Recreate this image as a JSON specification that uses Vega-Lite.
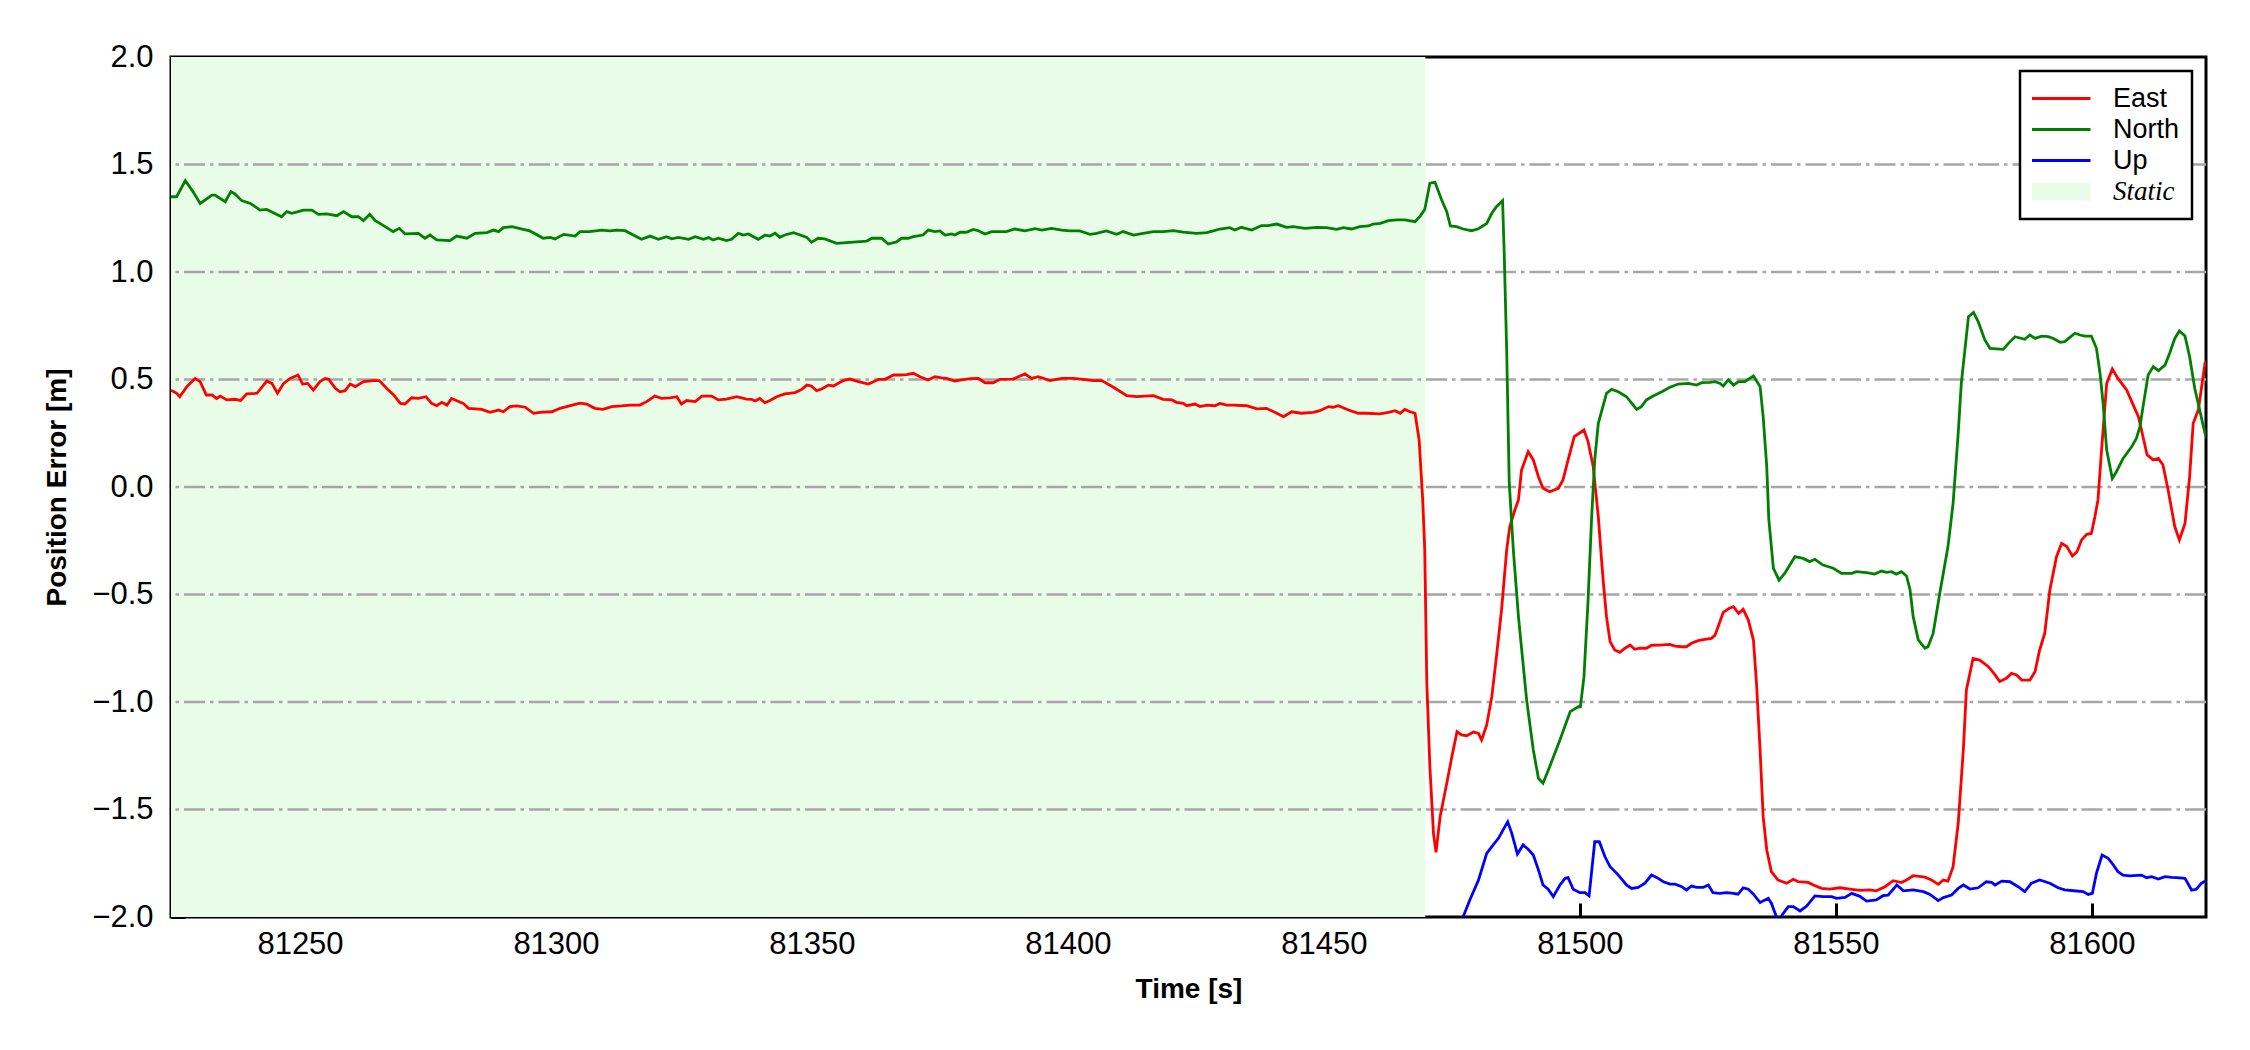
{
  "$schema": "https://vega.github.io/schema/vega-lite/v6.json",
  "width": 2035,
  "height": 860,
  "autosize": {"type": "none"},
  "padding": {"left": 171, "top": 57, "right": 44, "bottom": 133},
  "background": "white",
  "config": {
    "view": {"stroke": "black", "strokeWidth": 3},
    "axis": {
      "domain": false,
      "grid": false,
      "ticks": true,
      "tickSize": 14,
      "tickWidth": 3,
      "tickColor": "black",
      "offset": -14,
      "zindex": 1,
      "labelFont": "Liberation Sans",
      "labelFontSize": 31,
      "labelColor": "black",
      "titleFont": "Liberation Sans",
      "titleFontSize": 28,
      "titleFontWeight": "bold",
      "titleColor": "black"
    },
    "axisX": {"labelPadding": 12, "titlePadding": 16, "labelFlush": false},
    "axisY": {"labelPadding": 18, "titlePadding": 20, "labelFlush": false},
    "legend": {
      "strokeColor": "black",
      "fillColor": "white",
      "padding": 12,
      "cornerRadius": 0
    }
  },
  "layer": [
    {
      "data": {"values": [{"phase": "Static", "t0": 81200, "t1": 81469.8}]},
      "mark": {"type": "rect", "color": "#e8fce8", "clip": true},
      "encoding": {
        "x": {"field": "t0", "type": "quantitative", "title": "Time [s]"},
        "x2": {"field": "t1"}
      }
    },
    {
      "data": {"values": [{"g": -1.5}, {"g": -1.0}, {"g": -0.5}, {"g": 0.0}, {"g": 0.5}, {"g": 1.0}, {"g": 1.5}]},
      "mark": {"type": "rule", "color": "#a6a6a6", "strokeWidth": 2.6, "strokeDash": [21, 5, 3.5, 5]},
      "encoding": {
        "y": {"field": "g", "type": "quantitative", "title": "Position Error [m]"}
      }
    },
    {
      "data": {"values": [
        {"s":"East","t":81224.8,"v":0.45},{"s":"East","t":81225.9,"v":0.436},{"s":"East","t":81226.5,"v":0.42},{"s":"East","t":81227.9,"v":0.467},{"s":"East","t":81229.5,"v":0.505},{"s":"East","t":81230.5,"v":0.49},{"s":"East","t":81231.7,"v":0.428},{"s":"East","t":81232.8,"v":0.428},{"s":"East","t":81233.7,"v":0.412},{"s":"East","t":81234.4,"v":0.423},{"s":"East","t":81235.7,"v":0.405},{"s":"East","t":81237.3,"v":0.408},{"s":"East","t":81238.4,"v":0.402},{"s":"East","t":81239.6,"v":0.433},{"s":"East","t":81241.6,"v":0.436},{"s":"East","t":81243.5,"v":0.493},{"s":"East","t":81244.5,"v":0.482},{"s":"East","t":81245.6,"v":0.436},{"s":"East","t":81246.8,"v":0.482},{"s":"East","t":81248.1,"v":0.505},{"s":"East","t":81249.6,"v":0.521},{"s":"East","t":81250.5,"v":0.479},{"s":"East","t":81251.5,"v":0.482},{"s":"East","t":81252.6,"v":0.451},{"s":"East","t":81253.9,"v":0.49},{"s":"East","t":81254.9,"v":0.505},{"s":"East","t":81255.6,"v":0.501},{"s":"East","t":81256.9,"v":0.459},{"s":"East","t":81257.8,"v":0.443},{"s":"East","t":81258.8,"v":0.448},{"s":"East","t":81259.8,"v":0.479},{"s":"East","t":81260.8,"v":0.467},{"s":"East","t":81262.4,"v":0.49},{"s":"East","t":81264.3,"v":0.495},{"s":"East","t":81265.5,"v":0.495},{"s":"East","t":81266.9,"v":0.459},{"s":"East","t":81268.3,"v":0.428},{"s":"East","t":81269.6,"v":0.389},{"s":"East","t":81270.5,"v":0.386},{"s":"East","t":81271.8,"v":0.415},{"s":"East","t":81273.1,"v":0.412},{"s":"East","t":81274.6,"v":0.42},{"s":"East","t":81275.7,"v":0.389},{"s":"East","t":81276.7,"v":0.378},{"s":"East","t":81277.7,"v":0.394},{"s":"East","t":81278.7,"v":0.381},{"s":"East","t":81279.6,"v":0.412},{"s":"East","t":81281.3,"v":0.394},{"s":"East","t":81281.9,"v":0.389},{"s":"East","t":81282.9,"v":0.366},{"s":"East","t":81285.5,"v":0.361},{"s":"East","t":81287.1,"v":0.347},{"s":"East","t":81288.8,"v":0.358},{"s":"East","t":81289.7,"v":0.35},{"s":"East","t":81291.0,"v":0.374},{"s":"East","t":81292.3,"v":0.377},{"s":"East","t":81294.0,"v":0.371},{"s":"East","t":81295.6,"v":0.343},{"s":"East","t":81296.9,"v":0.347},{"s":"East","t":81299.2,"v":0.35},{"s":"East","t":81300.8,"v":0.366},{"s":"East","t":81302.8,"v":0.378},{"s":"East","t":81304.7,"v":0.39},{"s":"East","t":81306.0,"v":0.386},{"s":"East","t":81307.6,"v":0.366},{"s":"East","t":81309.2,"v":0.361},{"s":"East","t":81310.9,"v":0.374},{"s":"East","t":81312.8,"v":0.377},{"s":"East","t":81314.5,"v":0.381},{"s":"East","t":81316.4,"v":0.381},{"s":"East","t":81317.7,"v":0.397},{"s":"East","t":81319.3,"v":0.423},{"s":"East","t":81320.6,"v":0.412},{"s":"East","t":81322.3,"v":0.415},{"s":"East","t":81323.6,"v":0.42},{"s":"East","t":81324.5,"v":0.386},{"s":"East","t":81325.5,"v":0.402},{"s":"East","t":81327.2,"v":0.397},{"s":"East","t":81328.5,"v":0.423},{"s":"East","t":81330.4,"v":0.423},{"s":"East","t":81331.7,"v":0.405},{"s":"East","t":81333.3,"v":0.409},{"s":"East","t":81335.3,"v":0.42},{"s":"East","t":81337.2,"v":0.409},{"s":"East","t":81338.2,"v":0.408},{"s":"East","t":81338.9,"v":0.4},{"s":"East","t":81339.8,"v":0.412},{"s":"East","t":81340.8,"v":0.392},{"s":"East","t":81341.8,"v":0.402},{"s":"East","t":81343.1,"v":0.42},{"s":"East","t":81344.7,"v":0.433},{"s":"East","t":81346.7,"v":0.439},{"s":"East","t":81348.0,"v":0.454},{"s":"East","t":81349.0,"v":0.474},{"s":"East","t":81349.9,"v":0.47},{"s":"East","t":81350.9,"v":0.448},{"s":"East","t":81351.9,"v":0.456},{"s":"East","t":81353.2,"v":0.474},{"s":"East","t":81354.2,"v":0.47},{"s":"East","t":81356.1,"v":0.495},{"s":"East","t":81357.4,"v":0.502},{"s":"East","t":81359.1,"v":0.49},{"s":"East","t":81361.0,"v":0.479},{"s":"East","t":81362.0,"v":0.49},{"s":"East","t":81363.0,"v":0.501},{"s":"East","t":81364.3,"v":0.501},{"s":"East","t":81365.9,"v":0.521},{"s":"East","t":81367.2,"v":0.521},{"s":"East","t":81368.5,"v":0.523},{"s":"East","t":81369.8,"v":0.529},{"s":"East","t":81371.1,"v":0.513},{"s":"East","t":81372.7,"v":0.498},{"s":"East","t":81374.0,"v":0.513},{"s":"East","t":81375.3,"v":0.508},{"s":"East","t":81376.3,"v":0.505},{"s":"East","t":81377.9,"v":0.493},{"s":"East","t":81379.2,"v":0.498},{"s":"East","t":81380.9,"v":0.504},{"s":"East","t":81382.5,"v":0.505},{"s":"East","t":81383.8,"v":0.485},{"s":"East","t":81385.4,"v":0.485},{"s":"East","t":81386.7,"v":0.501},{"s":"East","t":81389.3,"v":0.502},{"s":"East","t":81391.6,"v":0.526},{"s":"East","t":81392.9,"v":0.505},{"s":"East","t":81394.2,"v":0.513},{"s":"East","t":81396.5,"v":0.495},{"s":"East","t":81398.8,"v":0.505},{"s":"East","t":81401.0,"v":0.505},{"s":"East","t":81403.0,"v":0.501},{"s":"East","t":81404.9,"v":0.495},{"s":"East","t":81406.6,"v":0.495},{"s":"East","t":81408.9,"v":0.464},{"s":"East","t":81411.5,"v":0.425},{"s":"East","t":81413.4,"v":0.42},{"s":"East","t":81416.7,"v":0.425},{"s":"East","t":81418.6,"v":0.408},{"s":"East","t":81420.3,"v":0.405},{"s":"East","t":81421.2,"v":0.394},{"s":"East","t":81422.5,"v":0.389},{"s":"East","t":81423.2,"v":0.378},{"s":"East","t":81424.8,"v":0.386},{"s":"East","t":81425.8,"v":0.374},{"s":"East","t":81427.1,"v":0.381},{"s":"East","t":81428.7,"v":0.378},{"s":"East","t":81429.7,"v":0.389},{"s":"East","t":81431.0,"v":0.381},{"s":"East","t":81432.3,"v":0.381},{"s":"East","t":81434.9,"v":0.378},{"s":"East","t":81436.9,"v":0.363},{"s":"East","t":81438.8,"v":0.366},{"s":"East","t":81440.8,"v":0.343},{"s":"East","t":81442.1,"v":0.327},{"s":"East","t":81443.7,"v":0.35},{"s":"East","t":81445.6,"v":0.343},{"s":"East","t":81447.9,"v":0.347},{"s":"East","t":81449.2,"v":0.355},{"s":"East","t":81450.9,"v":0.374},{"s":"East","t":81451.8,"v":0.371},{"s":"East","t":81452.8,"v":0.378},{"s":"East","t":81454.8,"v":0.358},{"s":"East","t":81456.7,"v":0.343},{"s":"East","t":81458.3,"v":0.343},{"s":"East","t":81460.9,"v":0.34},{"s":"East","t":81462.6,"v":0.347},{"s":"East","t":81463.9,"v":0.355},{"s":"East","t":81464.9,"v":0.343},{"s":"East","t":81465.8,"v":0.361},{"s":"East","t":81466.8,"v":0.35},{"s":"East","t":81467.8,"v":0.343},{"s":"East","t":81468.6,"v":0.219},{"s":"East","t":81469.3,"v":-0.06},{"s":"East","t":81469.7,"v":-0.293},{"s":"East","t":81470.1,"v":-0.913},{"s":"East","t":81470.7,"v":-1.301},{"s":"East","t":81471.4,"v":-1.611},{"s":"East","t":81471.9,"v":-1.699},{"s":"East","t":81472.7,"v":-1.533},{"s":"East","t":81474.0,"v":-1.378},{"s":"East","t":81475.0,"v":-1.254},{"s":"East","t":81476.0,"v":-1.138},{"s":"East","t":81476.9,"v":-1.153},{"s":"East","t":81477.9,"v":-1.157},{"s":"East","t":81479.2,"v":-1.14},{"s":"East","t":81480.2,"v":-1.146},{"s":"East","t":81480.8,"v":-1.177},{"s":"East","t":81481.8,"v":-1.107},{"s":"East","t":81482.8,"v":-0.975},{"s":"East","t":81483.7,"v":-0.789},{"s":"East","t":81484.7,"v":-0.572},{"s":"East","t":81485.7,"v":-0.293},{"s":"East","t":81486.3,"v":-0.185},{"s":"East","t":81487.3,"v":-0.107},{"s":"East","t":81488.0,"v":-0.06},{"s":"East","t":81488.6,"v":0.079},{"s":"East","t":81489.9,"v":0.164},{"s":"East","t":81490.9,"v":0.126},{"s":"East","t":81491.9,"v":0.048},{"s":"East","t":81492.8,"v":-0.006},{"s":"East","t":81494.1,"v":-0.022},{"s":"East","t":81495.8,"v":-0.006},{"s":"East","t":81496.7,"v":0.033},{"s":"East","t":81497.7,"v":0.126},{"s":"East","t":81498.9,"v":0.234},{"s":"East","t":81500.8,"v":0.265},{"s":"East","t":81501.6,"v":0.211},{"s":"East","t":81502.6,"v":0.095},{"s":"East","t":81503.6,"v":-0.138},{"s":"East","t":81504.2,"v":-0.33},{"s":"East","t":81504.6,"v":-0.448},{"s":"East","t":81505.2,"v":-0.603},{"s":"East","t":81505.9,"v":-0.719},{"s":"East","t":81506.8,"v":-0.758},{"s":"East","t":81507.8,"v":-0.769},{"s":"East","t":81508.8,"v":-0.75},{"s":"East","t":81509.8,"v":-0.735},{"s":"East","t":81510.7,"v":-0.755},{"s":"East","t":81511.7,"v":-0.75},{"s":"East","t":81513.0,"v":-0.75},{"s":"East","t":81514.0,"v":-0.736},{"s":"East","t":81515.6,"v":-0.735},{"s":"East","t":81517.6,"v":-0.732},{"s":"East","t":81518.6,"v":-0.74},{"s":"East","t":81519.9,"v":-0.743},{"s":"East","t":81520.8,"v":-0.743},{"s":"East","t":81521.8,"v":-0.727},{"s":"East","t":81523.1,"v":-0.715},{"s":"East","t":81524.4,"v":-0.709},{"s":"East","t":81525.7,"v":-0.704},{"s":"East","t":81526.4,"v":-0.689},{"s":"East","t":81527.0,"v":-0.65},{"s":"East","t":81528.0,"v":-0.583},{"s":"East","t":81529.2,"v":-0.564},{"s":"East","t":81530.0,"v":-0.557},{"s":"East","t":81531.0,"v":-0.588},{"s":"East","t":81531.9,"v":-0.569},{"s":"East","t":81532.9,"v":-0.619},{"s":"East","t":81533.9,"v":-0.712},{"s":"East","t":81534.5,"v":-0.913},{"s":"East","t":81535.2,"v":-1.223},{"s":"East","t":81535.8,"v":-1.533},{"s":"East","t":81536.5,"v":-1.688},{"s":"East","t":81537.4,"v":-1.789},{"s":"East","t":81538.7,"v":-1.828},{"s":"East","t":81540.4,"v":-1.843},{"s":"East","t":81541.7,"v":-1.825},{"s":"East","t":81542.6,"v":-1.836},{"s":"East","t":81544.6,"v":-1.839},{"s":"East","t":81545.6,"v":-1.851},{"s":"East","t":81547.2,"v":-1.867},{"s":"East","t":81548.8,"v":-1.87},{"s":"East","t":81550.8,"v":-1.864},{"s":"East","t":81552.7,"v":-1.87},{"s":"East","t":81554.7,"v":-1.876},{"s":"East","t":81556.6,"v":-1.874},{"s":"East","t":81557.9,"v":-1.878},{"s":"East","t":81559.6,"v":-1.859},{"s":"East","t":81561.2,"v":-1.831},{"s":"East","t":81562.8,"v":-1.84},{"s":"East","t":81563.8,"v":-1.828},{"s":"East","t":81565.1,"v":-1.808},{"s":"East","t":81567.4,"v":-1.815},{"s":"East","t":81568.7,"v":-1.828},{"s":"East","t":81570.0,"v":-1.848},{"s":"East","t":81571.0,"v":-1.828},{"s":"East","t":81571.9,"v":-1.833},{"s":"East","t":81572.9,"v":-1.766},{"s":"East","t":81573.9,"v":-1.564},{"s":"East","t":81574.9,"v":-1.223},{"s":"East","t":81575.5,"v":-0.944},{"s":"East","t":81576.8,"v":-0.797},{"s":"East","t":81578.1,"v":-0.805},{"s":"East","t":81579.8,"v":-0.836},{"s":"East","t":81581.1,"v":-0.874},{"s":"East","t":81582.0,"v":-0.905},{"s":"East","t":81583.3,"v":-0.89},{"s":"East","t":81584.3,"v":-0.867},{"s":"East","t":81585.3,"v":-0.874},{"s":"East","t":81586.3,"v":-0.898},{"s":"East","t":81587.9,"v":-0.898},{"s":"East","t":81588.9,"v":-0.859},{"s":"East","t":81589.8,"v":-0.758},{"s":"East","t":81590.8,"v":-0.681},{"s":"East","t":81591.8,"v":-0.479},{"s":"East","t":81593.1,"v":-0.324},{"s":"East","t":81594.1,"v":-0.262},{"s":"East","t":81595.1,"v":-0.277},{"s":"East","t":81596.2,"v":-0.321},{"s":"East","t":81597.1,"v":-0.301},{"s":"East","t":81598.0,"v":-0.246},{"s":"East","t":81599.0,"v":-0.22},{"s":"East","t":81599.9,"v":-0.216},{"s":"East","t":81600.6,"v":-0.138},{"s":"East","t":81601.2,"v":-0.06},{"s":"East","t":81601.9,"v":0.172},{"s":"East","t":81602.9,"v":0.482},{"s":"East","t":81604.0,"v":0.549},{"s":"East","t":81605.1,"v":0.505},{"s":"East","t":81606.8,"v":0.451},{"s":"East","t":81608.1,"v":0.381},{"s":"East","t":81609.1,"v":0.327},{"s":"East","t":81609.7,"v":0.265},{"s":"East","t":81610.8,"v":0.149},{"s":"East","t":81612.0,"v":0.126},{"s":"East","t":81613.0,"v":0.133},{"s":"East","t":81613.9,"v":0.102},{"s":"East","t":81614.9,"v":-0.014},{"s":"East","t":81616.2,"v":-0.184},{"s":"East","t":81617.1,"v":-0.246},{"s":"East","t":81618.2,"v":-0.169},{"s":"East","t":81619.1,"v":0.048},{"s":"East","t":81619.8,"v":0.296},{"s":"East","t":81620.8,"v":0.358},{"s":"East","t":81622.1,"v":0.575},{"s":"East","t":81623.0,"v":0.6},
        {"s":"North","t":81224.8,"v":1.35},{"s":"North","t":81225.9,"v":1.35},{"s":"North","t":81227.6,"v":1.425},{"s":"North","t":81228.9,"v":1.381},{"s":"North","t":81230.5,"v":1.319},{"s":"North","t":81232.8,"v":1.358},{"s":"North","t":81233.4,"v":1.358},{"s":"North","t":81235.4,"v":1.327},{"s":"North","t":81236.5,"v":1.374},{"s":"North","t":81237.3,"v":1.363},{"s":"North","t":81238.6,"v":1.332},{"s":"North","t":81240.3,"v":1.319},{"s":"North","t":81242.2,"v":1.288},{"s":"North","t":81243.5,"v":1.291},{"s":"North","t":81244.8,"v":1.276},{"s":"North","t":81246.4,"v":1.257},{"s":"North","t":81247.4,"v":1.281},{"s":"North","t":81248.4,"v":1.273},{"s":"North","t":81250.7,"v":1.288},{"s":"North","t":81252.3,"v":1.288},{"s":"North","t":81253.6,"v":1.268},{"s":"North","t":81255.2,"v":1.27},{"s":"North","t":81257.2,"v":1.262},{"s":"North","t":81258.5,"v":1.281},{"s":"North","t":81260.1,"v":1.257},{"s":"North","t":81261.4,"v":1.257},{"s":"North","t":81262.4,"v":1.239},{"s":"North","t":81263.6,"v":1.268},{"s":"North","t":81264.7,"v":1.239},{"s":"North","t":81265.6,"v":1.226},{"s":"North","t":81268.2,"v":1.188},{"s":"North","t":81269.4,"v":1.203},{"s":"North","t":81270.5,"v":1.177},{"s":"North","t":81273.1,"v":1.18},{"s":"North","t":81274.4,"v":1.157},{"s":"North","t":81275.4,"v":1.172},{"s":"North","t":81276.7,"v":1.149},{"s":"North","t":81279.3,"v":1.146},{"s":"North","t":81280.6,"v":1.167},{"s":"North","t":81282.6,"v":1.157},{"s":"North","t":81284.2,"v":1.18},{"s":"North","t":81286.5,"v":1.183},{"s":"North","t":81287.8,"v":1.195},{"s":"North","t":81288.8,"v":1.188},{"s":"North","t":81289.7,"v":1.206},{"s":"North","t":81291.4,"v":1.211},{"s":"North","t":81293.6,"v":1.198},{"s":"North","t":81294.9,"v":1.191},{"s":"North","t":81297.5,"v":1.157},{"s":"North","t":81298.9,"v":1.161},{"s":"North","t":81299.8,"v":1.154},{"s":"North","t":81301.5,"v":1.175},{"s":"North","t":81303.7,"v":1.167},{"s":"North","t":81304.7,"v":1.188},{"s":"North","t":81306.6,"v":1.188},{"s":"North","t":81308.9,"v":1.195},{"s":"North","t":81310.5,"v":1.191},{"s":"North","t":81311.9,"v":1.195},{"s":"North","t":81313.5,"v":1.192},{"s":"North","t":81315.1,"v":1.172},{"s":"North","t":81316.7,"v":1.152},{"s":"North","t":81318.4,"v":1.167},{"s":"North","t":81320.0,"v":1.152},{"s":"North","t":81321.6,"v":1.164},{"s":"North","t":81322.6,"v":1.154},{"s":"North","t":81323.9,"v":1.161},{"s":"North","t":81325.9,"v":1.152},{"s":"North","t":81327.2,"v":1.164},{"s":"North","t":81328.8,"v":1.152},{"s":"North","t":81329.8,"v":1.16},{"s":"North","t":81330.7,"v":1.149},{"s":"North","t":81331.7,"v":1.157},{"s":"North","t":81333.3,"v":1.146},{"s":"North","t":81334.3,"v":1.152},{"s":"North","t":81335.6,"v":1.18},{"s":"North","t":81336.6,"v":1.172},{"s":"North","t":81337.6,"v":1.177},{"s":"North","t":81339.5,"v":1.152},{"s":"North","t":81340.8,"v":1.171},{"s":"North","t":81341.8,"v":1.167},{"s":"North","t":81342.8,"v":1.18},{"s":"North","t":81343.7,"v":1.161},{"s":"North","t":81344.7,"v":1.172},{"s":"North","t":81346.4,"v":1.183},{"s":"North","t":81347.7,"v":1.172},{"s":"North","t":81349.0,"v":1.161},{"s":"North","t":81349.9,"v":1.138},{"s":"North","t":81351.2,"v":1.157},{"s":"North","t":81352.5,"v":1.154},{"s":"North","t":81354.8,"v":1.133},{"s":"North","t":81357.4,"v":1.138},{"s":"North","t":81360.7,"v":1.144},{"s":"North","t":81361.7,"v":1.157},{"s":"North","t":81363.6,"v":1.157},{"s":"North","t":81364.9,"v":1.13},{"s":"North","t":81366.5,"v":1.14},{"s":"North","t":81367.5,"v":1.157},{"s":"North","t":81368.8,"v":1.157},{"s":"North","t":81369.8,"v":1.164},{"s":"North","t":81371.7,"v":1.172},{"s":"North","t":81372.7,"v":1.195},{"s":"North","t":81374.0,"v":1.188},{"s":"North","t":81375.0,"v":1.191},{"s":"North","t":81376.0,"v":1.172},{"s":"North","t":81377.3,"v":1.177},{"s":"North","t":81377.9,"v":1.172},{"s":"North","t":81378.9,"v":1.185},{"s":"North","t":81380.2,"v":1.185},{"s":"North","t":81381.5,"v":1.198},{"s":"North","t":81382.5,"v":1.192},{"s":"North","t":81383.8,"v":1.177},{"s":"North","t":81385.1,"v":1.188},{"s":"North","t":81386.7,"v":1.188},{"s":"North","t":81388.0,"v":1.188},{"s":"North","t":81389.6,"v":1.2},{"s":"North","t":81391.6,"v":1.191},{"s":"North","t":81393.6,"v":1.202},{"s":"North","t":81394.9,"v":1.195},{"s":"North","t":81396.8,"v":1.203},{"s":"North","t":81398.8,"v":1.195},{"s":"North","t":81400.4,"v":1.191},{"s":"North","t":81402.3,"v":1.191},{"s":"North","t":81404.3,"v":1.175},{"s":"North","t":81405.6,"v":1.18},{"s":"North","t":81407.5,"v":1.191},{"s":"North","t":81409.5,"v":1.175},{"s":"North","t":81410.8,"v":1.188},{"s":"North","t":81412.8,"v":1.172},{"s":"North","t":81414.7,"v":1.18},{"s":"North","t":81416.7,"v":1.188},{"s":"North","t":81418.6,"v":1.188},{"s":"North","t":81420.6,"v":1.192},{"s":"North","t":81422.5,"v":1.185},{"s":"North","t":81425.1,"v":1.18},{"s":"North","t":81427.1,"v":1.183},{"s":"North","t":81428.4,"v":1.191},{"s":"North","t":81429.7,"v":1.2},{"s":"North","t":81431.6,"v":1.206},{"s":"North","t":81432.6,"v":1.195},{"s":"North","t":81433.9,"v":1.208},{"s":"North","t":81435.9,"v":1.195},{"s":"North","t":81437.8,"v":1.216},{"s":"North","t":81439.1,"v":1.216},{"s":"North","t":81440.8,"v":1.223},{"s":"North","t":81442.7,"v":1.208},{"s":"North","t":81444.0,"v":1.211},{"s":"North","t":81446.3,"v":1.203},{"s":"North","t":81448.6,"v":1.208},{"s":"North","t":81450.5,"v":1.206},{"s":"North","t":81452.5,"v":1.198},{"s":"North","t":81453.8,"v":1.206},{"s":"North","t":81455.4,"v":1.2},{"s":"North","t":81457.0,"v":1.211},{"s":"North","t":81458.7,"v":1.214},{"s":"North","t":81459.6,"v":1.223},{"s":"North","t":81461.0,"v":1.226},{"s":"North","t":81462.6,"v":1.239},{"s":"North","t":81464.2,"v":1.242},{"s":"North","t":81465.8,"v":1.242},{"s":"North","t":81467.8,"v":1.234},{"s":"North","t":81468.8,"v":1.26},{"s":"North","t":81469.7,"v":1.291},{"s":"North","t":81470.7,"v":1.413},{"s":"North","t":81471.7,"v":1.417},{"s":"North","t":81473.0,"v":1.335},{"s":"North","t":81474.0,"v":1.281},{"s":"North","t":81474.7,"v":1.214},{"s":"North","t":81475.9,"v":1.211},{"s":"North","t":81477.2,"v":1.2},{"s":"North","t":81478.8,"v":1.192},{"s":"North","t":81480.1,"v":1.2},{"s":"North","t":81481.8,"v":1.226},{"s":"North","t":81482.8,"v":1.273},{"s":"North","t":81483.7,"v":1.304},{"s":"North","t":81484.9,"v":1.332},{"s":"North","t":81485.2,"v":1.102},{"s":"North","t":81485.7,"v":0.637},{"s":"North","t":81486.2,"v":0.02},{"s":"North","t":81487.0,"v":-0.293},{"s":"North","t":81488.0,"v":-0.603},{"s":"North","t":81489.6,"v":-0.991},{"s":"North","t":81490.9,"v":-1.223},{"s":"North","t":81491.9,"v":-1.355},{"s":"North","t":81492.8,"v":-1.378},{"s":"North","t":81494.1,"v":-1.301},{"s":"North","t":81496.1,"v":-1.177},{"s":"North","t":81498.1,"v":-1.045},{"s":"North","t":81499.7,"v":-1.022},{"s":"North","t":81500.1,"v":-1.022},{"s":"North","t":81500.8,"v":-0.882},{"s":"North","t":81501.6,"v":-0.526},{"s":"North","t":81502.3,"v":-0.138},{"s":"North","t":81502.9,"v":0.126},{"s":"North","t":81503.6,"v":0.296},{"s":"North","t":81505.2,"v":0.436},{"s":"North","t":81506.2,"v":0.454},{"s":"North","t":81507.5,"v":0.443},{"s":"North","t":81509.1,"v":0.42},{"s":"North","t":81511.1,"v":0.361},{"s":"North","t":81512.0,"v":0.374},{"s":"North","t":81513.0,"v":0.405},{"s":"North","t":81514.3,"v":0.423},{"s":"North","t":81516.0,"v":0.443},{"s":"North","t":81517.6,"v":0.464},{"s":"North","t":81519.2,"v":0.479},{"s":"North","t":81521.2,"v":0.482},{"s":"North","t":81522.8,"v":0.474},{"s":"North","t":81523.8,"v":0.485},{"s":"North","t":81525.4,"v":0.487},{"s":"North","t":81526.4,"v":0.49},{"s":"North","t":81527.4,"v":0.482},{"s":"North","t":81528.0,"v":0.47},{"s":"North","t":81529.0,"v":0.498},{"s":"North","t":81530.0,"v":0.474},{"s":"North","t":81531.0,"v":0.49},{"s":"North","t":81532.2,"v":0.49},{"s":"North","t":81533.9,"v":0.516},{"s":"North","t":81535.2,"v":0.467},{"s":"North","t":81535.8,"v":0.327},{"s":"North","t":81536.5,"v":0.095},{"s":"North","t":81536.9,"v":-0.15},{"s":"North","t":81537.8,"v":-0.378},{"s":"North","t":81538.9,"v":-0.433},{"s":"North","t":81540.0,"v":-0.402},{"s":"North","t":81542.0,"v":-0.324},{"s":"North","t":81543.6,"v":-0.332},{"s":"North","t":81544.9,"v":-0.347},{"s":"North","t":81545.9,"v":-0.336},{"s":"North","t":81547.5,"v":-0.363},{"s":"North","t":81549.5,"v":-0.378},{"s":"North","t":81551.1,"v":-0.402},{"s":"North","t":81553.1,"v":-0.402},{"s":"North","t":81554.0,"v":-0.394},{"s":"North","t":81556.0,"v":-0.398},{"s":"North","t":81557.6,"v":-0.405},{"s":"North","t":81558.9,"v":-0.391},{"s":"North","t":81559.9,"v":-0.397},{"s":"North","t":81560.9,"v":-0.394},{"s":"North","t":81561.8,"v":-0.405},{"s":"North","t":81562.8,"v":-0.394},{"s":"North","t":81563.8,"v":-0.414},{"s":"North","t":81564.5,"v":-0.479},{"s":"North","t":81565.1,"v":-0.603},{"s":"North","t":81566.1,"v":-0.711},{"s":"North","t":81567.4,"v":-0.75},{"s":"North","t":81568.0,"v":-0.743},{"s":"North","t":81569.0,"v":-0.681},{"s":"North","t":81570.3,"v":-0.494},{"s":"North","t":81571.9,"v":-0.277},{"s":"North","t":81572.9,"v":-0.076},{"s":"North","t":81573.9,"v":0.25},{"s":"North","t":81574.5,"v":0.482},{"s":"North","t":81575.2,"v":0.637},{"s":"North","t":81575.9,"v":0.792},{"s":"North","t":81576.9,"v":0.812},{"s":"North","t":81577.8,"v":0.769},{"s":"North","t":81579.1,"v":0.684},{"s":"North","t":81580.1,"v":0.645},{"s":"North","t":81582.7,"v":0.64},{"s":"North","t":81583.7,"v":0.668},{"s":"North","t":81585.0,"v":0.699},{"s":"North","t":81586.9,"v":0.687},{"s":"North","t":81587.9,"v":0.707},{"s":"North","t":81588.9,"v":0.691},{"s":"North","t":81590.2,"v":0.702},{"s":"North","t":81591.5,"v":0.699},{"s":"North","t":81592.5,"v":0.691},{"s":"North","t":81593.8,"v":0.673},{"s":"North","t":81594.7,"v":0.676},{"s":"North","t":81595.7,"v":0.696},{"s":"North","t":81596.7,"v":0.715},{"s":"North","t":81597.7,"v":0.707},{"s":"North","t":81598.6,"v":0.702},{"s":"North","t":81599.9,"v":0.702},{"s":"North","t":81600.9,"v":0.645},{"s":"North","t":81601.6,"v":0.529},{"s":"North","t":81602.2,"v":0.389},{"s":"North","t":81602.9,"v":0.172},{"s":"North","t":81604.0,"v":0.04},{"s":"North","t":81604.8,"v":0.071},{"s":"North","t":81606.1,"v":0.133},{"s":"North","t":81607.8,"v":0.188},{"s":"North","t":81608.7,"v":0.226},{"s":"North","t":81609.4,"v":0.281},{"s":"North","t":81610.0,"v":0.374},{"s":"North","t":81611.0,"v":0.521},{"s":"North","t":81612.0,"v":0.56},{"s":"North","t":81613.0,"v":0.541},{"s":"North","t":81614.3,"v":0.567},{"s":"North","t":81615.2,"v":0.622},{"s":"North","t":81616.2,"v":0.691},{"s":"North","t":81617.1,"v":0.726},{"s":"North","t":81618.2,"v":0.702},{"s":"North","t":81619.1,"v":0.606},{"s":"North","t":81620.1,"v":0.459},{"s":"North","t":81622.1,"v":0.25},{"s":"North","t":81623.0,"v":0.2},
        {"s":"Up","t":81475.5,"v":-2.3},{"s":"Up","t":81477.2,"v":-1.999},{"s":"Up","t":81478.5,"v":-1.921},{"s":"Up","t":81480.2,"v":-1.828},{"s":"Up","t":81481.8,"v":-1.704},{"s":"Up","t":81482.8,"v":-1.673},{"s":"Up","t":81484.1,"v":-1.634},{"s":"Up","t":81485.0,"v":-1.595},{"s":"Up","t":81485.9,"v":-1.557},{"s":"Up","t":81486.7,"v":-1.611},{"s":"Up","t":81487.8,"v":-1.707},{"s":"Up","t":81488.9,"v":-1.665},{"s":"Up","t":81489.9,"v":-1.685},{"s":"Up","t":81490.9,"v":-1.712},{"s":"Up","t":81491.9,"v":-1.781},{"s":"Up","t":81492.8,"v":-1.851},{"s":"Up","t":81493.8,"v":-1.871},{"s":"Up","t":81494.8,"v":-1.905},{"s":"Up","t":81496.1,"v":-1.851},{"s":"Up","t":81497.1,"v":-1.82},{"s":"Up","t":81497.7,"v":-1.817},{"s":"Up","t":81498.7,"v":-1.871},{"s":"Up","t":81500.0,"v":-1.887},{"s":"Up","t":81501.0,"v":-1.887},{"s":"Up","t":81501.8,"v":-1.902},{"s":"Up","t":81502.9,"v":-1.65},{"s":"Up","t":81503.8,"v":-1.65},{"s":"Up","t":81504.9,"v":-1.72},{"s":"Up","t":81505.9,"v":-1.766},{"s":"Up","t":81507.2,"v":-1.797},{"s":"Up","t":81507.8,"v":-1.813},{"s":"Up","t":81509.1,"v":-1.851},{"s":"Up","t":81510.1,"v":-1.867},{"s":"Up","t":81511.4,"v":-1.862},{"s":"Up","t":81512.7,"v":-1.843},{"s":"Up","t":81514.0,"v":-1.805},{"s":"Up","t":81515.0,"v":-1.816},{"s":"Up","t":81516.3,"v":-1.836},{"s":"Up","t":81517.6,"v":-1.847},{"s":"Up","t":81518.6,"v":-1.847},{"s":"Up","t":81519.9,"v":-1.859},{"s":"Up","t":81520.8,"v":-1.874},{"s":"Up","t":81521.8,"v":-1.856},{"s":"Up","t":81522.8,"v":-1.862},{"s":"Up","t":81524.1,"v":-1.862},{"s":"Up","t":81525.1,"v":-1.851},{"s":"Up","t":81526.0,"v":-1.887},{"s":"Up","t":81527.3,"v":-1.89},{"s":"Up","t":81528.7,"v":-1.887},{"s":"Up","t":81530.0,"v":-1.89},{"s":"Up","t":81530.9,"v":-1.894},{"s":"Up","t":81531.9,"v":-1.864},{"s":"Up","t":81532.9,"v":-1.871},{"s":"Up","t":81533.9,"v":-1.894},{"s":"Up","t":81535.2,"v":-1.933},{"s":"Up","t":81536.8,"v":-1.913},{"s":"Up","t":81537.4,"v":-1.936},{"s":"Up","t":81538.4,"v":-2.0},{"s":"Up","t":81539.0,"v":-2.02},{"s":"Up","t":81539.5,"v":-1.99},{"s":"Up","t":81540.7,"v":-1.952},{"s":"Up","t":81541.7,"v":-1.952},{"s":"Up","t":81543.0,"v":-1.972},{"s":"Up","t":81544.3,"v":-1.949},{"s":"Up","t":81545.9,"v":-1.902},{"s":"Up","t":81547.5,"v":-1.905},{"s":"Up","t":81549.2,"v":-1.905},{"s":"Up","t":81550.1,"v":-1.913},{"s":"Up","t":81551.8,"v":-1.909},{"s":"Up","t":81553.1,"v":-1.89},{"s":"Up","t":81554.7,"v":-1.904},{"s":"Up","t":81556.0,"v":-1.926},{"s":"Up","t":81557.9,"v":-1.921},{"s":"Up","t":81559.2,"v":-1.901},{"s":"Up","t":81560.2,"v":-1.898},{"s":"Up","t":81561.9,"v":-1.851},{"s":"Up","t":81563.2,"v":-1.878},{"s":"Up","t":81565.1,"v":-1.874},{"s":"Up","t":81567.1,"v":-1.882},{"s":"Up","t":81568.4,"v":-1.895},{"s":"Up","t":81570.0,"v":-1.924},{"s":"Up","t":81571.0,"v":-1.91},{"s":"Up","t":81572.6,"v":-1.898},{"s":"Up","t":81573.9,"v":-1.867},{"s":"Up","t":81574.9,"v":-1.851},{"s":"Up","t":81576.2,"v":-1.87},{"s":"Up","t":81577.8,"v":-1.864},{"s":"Up","t":81579.4,"v":-1.836},{"s":"Up","t":81580.4,"v":-1.839},{"s":"Up","t":81581.1,"v":-1.851},{"s":"Up","t":81582.4,"v":-1.833},{"s":"Up","t":81584.0,"v":-1.836},{"s":"Up","t":81585.6,"v":-1.859},{"s":"Up","t":81586.9,"v":-1.882},{"s":"Up","t":81588.2,"v":-1.843},{"s":"Up","t":81589.8,"v":-1.828},{"s":"Up","t":81591.8,"v":-1.843},{"s":"Up","t":81593.4,"v":-1.864},{"s":"Up","t":81594.7,"v":-1.874},{"s":"Up","t":81597.0,"v":-1.879},{"s":"Up","t":81598.3,"v":-1.882},{"s":"Up","t":81599.3,"v":-1.895},{"s":"Up","t":81600.1,"v":-1.89},{"s":"Up","t":81600.9,"v":-1.797},{"s":"Up","t":81602.0,"v":-1.712},{"s":"Up","t":81603.2,"v":-1.727},{"s":"Up","t":81604.2,"v":-1.758},{"s":"Up","t":81605.1,"v":-1.789},{"s":"Up","t":81606.1,"v":-1.805},{"s":"Up","t":81607.4,"v":-1.809},{"s":"Up","t":81609.7,"v":-1.805},{"s":"Up","t":81610.7,"v":-1.817},{"s":"Up","t":81611.7,"v":-1.812},{"s":"Up","t":81613.0,"v":-1.823},{"s":"Up","t":81614.3,"v":-1.812},{"s":"Up","t":81615.6,"v":-1.816},{"s":"Up","t":81616.5,"v":-1.817},{"s":"Up","t":81618.2,"v":-1.82},{"s":"Up","t":81619.5,"v":-1.875},{"s":"Up","t":81620.4,"v":-1.871},{"s":"Up","t":81621.4,"v":-1.843},{"s":"Up","t":81622.1,"v":-1.833},{"s":"Up","t":81623.0,"v":-1.83}
      ]},
      "mark": {"type": "line", "strokeWidth": 2.8, "clip": true},
      "encoding": {
        "x": {
          "field": "t", "type": "quantitative", "title": "Time [s]",
          "scale": {"domain": [81224.8, 81622.3], "nice": false, "zero": false},
          "axis": {"values": [81250, 81300, 81350, 81400, 81450, 81500, 81550, 81600], "format": "d"}
        },
        "y": {
          "field": "v", "type": "quantitative", "title": "Position Error [m]",
          "scale": {"domain": [-2, 2], "nice": false, "zero": false},
          "axis": {"values": [-2, -1.5, -1, -0.5, 0, 0.5, 1, 1.5, 2], "format": ".1f"}
        },
        "color": {
          "field": "s", "type": "nominal",
          "scale": {"domain": ["East", "North", "Up", "Static"], "range": ["#ff0000", "#008000", "#0000ff", "#e8fce8"]},
          "legend": {
            "title": null,
            "orient": "top-right",
            "offset": 14,
            "symbolType": "stroke",
            "symbolSize": 8100,
            "symbolStrokeWidth": 3,
            "clipHeight": 31,
            "rowPadding": 0,
            "labelOffset": 54,
            "labelFont": "Liberation Sans",
            "labelFontSize": 27,
            "labelColor": "black",
            "padding": 12,
            "strokeColor": "black",
            "fillColor": "white",
            "encode": {
              "legend": {"update": {"strokeWidth": {"value": 2.5}}},
              "symbols": {"update": {"strokeWidth": {"signal": "datum.value === 'Static' ? 18 : 3"}}},
              "labels": {"update": {
                "font": {"signal": "datum.value === 'Static' ? 'Liberation Serif' : 'Liberation Sans'"},
                "fontStyle": {"signal": "datum.value === 'Static' ? 'italic' : 'normal'"}
              }}
            }
          }
        }
      }
    }
  ]
}
